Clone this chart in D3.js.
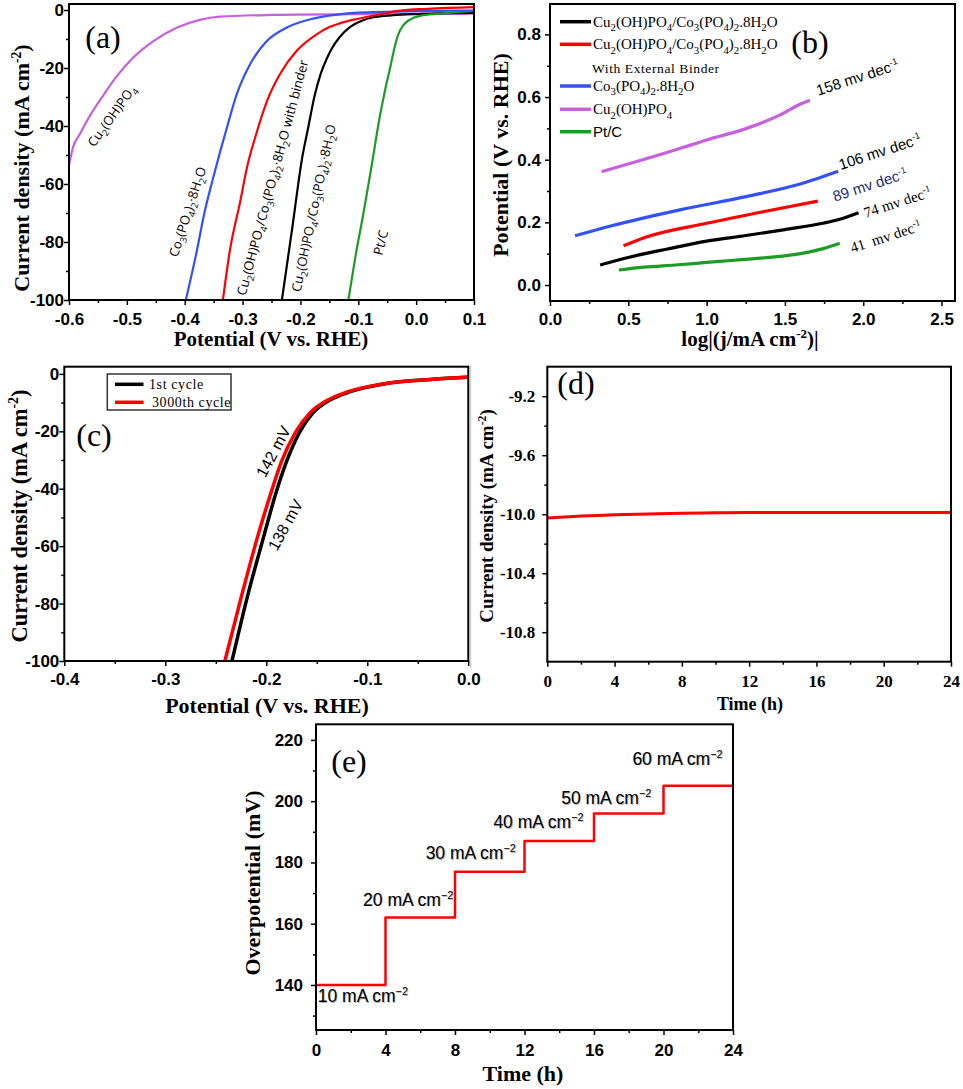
<!DOCTYPE html>
<html>
<head>
<meta charset="utf-8">
<script src="https://cdn.jsdelivr.net/npm/d3@7"></script>
<style>
body { margin: 0; background: #fff; }
svg { display: block; }
</style>
</head>
<body>
<div id="container"></div>
<script>
const SERIF = "'Liberation Serif', 'Times New Roman', serif";
const SANS = "'Liberation Sans', Arial, sans-serif";
const OPEN = "'Open Sans', 'Liberation Sans', sans-serif";

// (a) polarization curves: [potential (V vs. RHE), current density (mA cm-2)]
const lsvComposite = [[-0.232,-100],[-0.214,-75],[-0.197,-51],[-0.186,-40],[-0.176,-30],[-0.165,-22],[-0.155,-17],[-0.145,-13],[-0.132,-9.3],[-0.115,-6],[-0.095,-3.8],[-0.074,-2.5],[-0.04,-1.8],[0.0,-1.4],[0.1,-1.0]];
const lsvBinder = [[-0.334,-100],[-0.322,-83],[-0.304,-66],[-0.292,-54],[-0.276,-42.5],[-0.258,-31.5],[-0.235,-22],[-0.206,-14],[-0.172,-8.4],[-0.149,-5.8],[-0.132,-4.6],[-0.1,-3.0],[-0.06,-1.4],[-0.03,-0.3],[0.02,0.4],[0.1,1.0]];
const lsvCo3 = [[-0.398,-100],[-0.379,-83],[-0.366,-70],[-0.351,-58],[-0.339,-49],[-0.327,-40.5],[-0.31,-29],[-0.287,-18.7],[-0.258,-10.7],[-0.224,-6.1],[-0.183,-3.2],[-0.132,-1.5],[-0.1,-0.9],[0,-0.4],[0.1,-0.2]];
const lsvCu2 = [[-0.6,-53.5],[-0.593,-47.3],[-0.581,-42.7],[-0.564,-36.5],[-0.541,-29.5],[-0.518,-23],[-0.489,-16.4],[-0.454,-10.7],[-0.414,-6.1],[-0.374,-3.4],[-0.339,-2.3],[-0.25,-1.7],[-0.1,-1.4],[0.1,-1.3]];
const lsvPtC = [[-0.117,-100],[-0.104,-84],[-0.091,-70],[-0.078,-55],[-0.063,-37],[-0.052,-26],[-0.045,-20],[-0.038,-13.5],[-0.031,-8.5],[-0.023,-5.5],[-0.016,-4],[-0.005,-2.7],[0.007,-2.0],[0.041,-1.3],[0.1,-0.3]];

// (b) Tafel plots: [log|j|, potential (V vs. RHE)]
const tafelComposite = [[0.32,0.064],[0.5,0.088],[0.75,0.115],[1.0,0.14],[1.25,0.158],[1.5,0.177],[1.75,0.198],[1.85,0.21],[1.97,0.231]];
const tafelBinder = [[0.47,0.125],[0.62,0.154],[1.0,0.197],[1.36,0.234],[1.71,0.268]];
const tafelCo3 = [[0.16,0.157],[0.4,0.19],[0.83,0.24],[1.26,0.283],[1.58,0.32],[1.84,0.363]];
const tafelCu2 = [[0.33,0.362],[0.51,0.388],[0.83,0.436],[1.0,0.463],[1.256,0.5],[1.47,0.543],[1.6,0.578],[1.66,0.59]];
const tafelPtC = [[0.44,0.048],[0.6,0.057],[0.8,0.064],[1.0,0.072],[1.2,0.08],[1.4,0.088],[1.6,0.1],[1.75,0.117],[1.85,0.133]];
const tafelSlopes = [158, 106, 89, 74, 41];

// (c) before / after 3000 cycles
const cycleFirst = [[-0.234,-100],[-0.219,-78],[-0.203,-57.2],[-0.19,-41],[-0.18,-30.6],[-0.167,-20.3],[-0.154,-13.7],[-0.137,-9.1],[-0.117,-6.2],[-0.084,-3.5],[-0.035,-1.9],[0,-1.2]];
const cycle3000 = [[-0.241,-100],[-0.225,-78],[-0.209,-57.2],[-0.195,-41],[-0.185,-30.6],[-0.171,-20.3],[-0.157,-13.7],[-0.139,-9.1],[-0.119,-6.2],[-0.085,-3.5],[-0.035,-1.9],[0,-1.1]];

// (d) chronoamperometry
const stabTime = [0, 1, 2, 3, 4, 6, 8, 10, 12, 16, 20, 24];
const stabJ = [-10.025, -10.019, -10.013, -10.008, -10.004, -9.998, -9.994, -9.991, -9.989, -9.989, -9.989, -9.989];

// (e) multi-step chronopotentiometry
const stepTime = [0, 4, 8, 12, 16, 20, 24];
const stepEta = [140, 162, 177, 187, 196, 205];
const stepJ = [10, 20, 30, 40, 50, 60];

const colors = {black: "#000", red: "#ff0000", blue: "#3352f5", magenta: "#c75fde", green: "#1c9c22"};

const svg = d3.select("#container").append("svg")
  .attr("width", 963).attr("height", 1089)
  .attr("viewBox", [0, 0, 963, 1089]);
svg.append("rect").attr("width", 963).attr("height", 1089).attr("fill", "#fff");

// text with _{sub} and ^{sup} pieces
function rich(text, str, size, base) {
  const parts = str.split(/(_\{[^}]*\}|\^\{[^}]*\})/).filter(s => s.length);
  let cur = 0;
  parts.forEach((p, i) => {
    let off = 0, fs = size, s = p;
    if (p.startsWith("_{")) { off = size * 0.28; fs = size * 0.72; s = p.slice(2, -1); }
    else if (p.startsWith("^{")) { off = -size * 0.38; fs = size * 0.62; s = p.slice(2, -1); }
    text.append("tspan").attr("dy", off - cur + (i == 0 ? (base || 0) : 0)).attr("font-size", fs).text(s);
    cur = off;
  });
  return text;
}

function label(g, x, y, str, o) {
  const t = g.append("text")
    .attr("transform", `translate(${x},${y})` + (o.rotate ? ` rotate(${o.rotate})` : ""))
    .attr("text-anchor", o.anchor || "middle")
    .attr("font-family", o.font || SERIF)
    .attr("font-weight", o.bold ? "bold" : "normal")
    .attr("font-size", o.size)
    .attr("fill", o.color || "#000");
  if (o.spacing) t.attr("letter-spacing", o.spacing);
  rich(t, str, o.size, o.base || 0);
  return t;
}

let clipId = 0;
function panel(x, y, o) {
  const g = svg.append("g");
  const [x0, x1] = x.range(), [y0, y1] = y.range();
  g.append("g").attr("transform", `translate(0,${y0})`)
    .call(d3.axisBottom(x).tickValues(o.xMinor).tickSize(3).tickFormat(""));
  g.append("g").attr("transform", `translate(${x0},0)`)
    .call(d3.axisLeft(y).tickValues(o.yMinor).tickSize(3).tickFormat(""));
  g.append("g").attr("transform", `translate(0,${y0})`)
    .call(d3.axisBottom(x).tickValues(o.xTicks).tickSize(5).tickPadding(o.xPad).tickFormat(o.xFmt));
  g.append("g").attr("transform", `translate(${x0},0)`)
    .call(d3.axisLeft(y).tickValues(o.yTicks).tickSize(5).tickPadding(o.yPad).tickFormat(o.yFmt));
  g.selectAll(".domain").remove();
  g.selectAll(".tick line").attr("stroke-width", 1.5);
  g.selectAll(".tick text")
    .attr("font-family", o.font).attr("font-weight", "bold")
    .attr("font-size", 17).attr("fill", "#000");
  clipId++;
  svg.append("clipPath").attr("id", "clip" + clipId)
    .append("rect").attr("x", x0).attr("y", y1).attr("width", x1 - x0).attr("height", y0 - y1);
  const plot = g.append("g").attr("clip-path", `url(#clip${clipId})`);
  g.append("rect").attr("x", x0).attr("y", y1).attr("width", x1 - x0).attr("height", y0 - y1)
    .attr("fill", "none").attr("stroke", "#000").attr("stroke-width", 2);
  return {g, plot};
}

function drawLine(g, x, y, data, color, w, curve) {
  g.append("path").datum(data)
    .attr("fill", "none").attr("stroke", color).attr("stroke-width", w)
    .attr("stroke-linejoin", "round")
    .attr("d", d3.line().x(d => x(d[0])).y(d => y(d[1])).curve(curve || d3.curveMonotoneX));
}

const f1 = d => d.toFixed(1);
const f0 = d => String(d);

// ---------- (a)
const xA = d3.scaleLinear().domain([-0.6, 0.1]).range([69, 474]);
const yA = d3.scaleLinear().domain([-100, 2.07]).range([300, 4]);
const pA = panel(xA, yA, {
  xTicks: d3.range(-6, 2).map(d => d / 10), xMinor: d3.range(-55, 10, 10).map(d => d / 100),
  yTicks: [0, -20, -40, -60, -80, -100], yMinor: [-10, -30, -50, -70, -90],
  xFmt: f1, yFmt: f0, xPad: 8, yPad: 0, font: SANS
});
drawLine(pA.plot, xA, yA, lsvCu2, colors.magenta, 2.2);
drawLine(pA.plot, xA, yA, lsvComposite, colors.black, 2.2);
drawLine(pA.plot, xA, yA, lsvPtC, colors.green, 2.2);
drawLine(pA.plot, xA, yA, lsvCo3, colors.blue, 2.2);
drawLine(pA.plot, xA, yA, lsvBinder, colors.red, 2.2);
const aNotes = [
  {t: "Cu_{2}(OH)PO_{4}", v: -0.526, j: -36.5, r: -54},
  {t: "Co_{3}(PO_{4})_{2}·8H_{2}O", v: -0.395, j: -69.6, r: -72},
  {t: "Cu_{2}(OH)PO_{4}/Co_{3}(PO_{4})_{2}·8H_{2}O with binder", v: -0.248, j: -57.8, r: -75},
  {t: "Cu_{2}(OH)PO_{4}/Co_{3}(PO_{4})_{2}·8H_{2}O", v: -0.177, j: -68.3, r: -78},
  {t: "Pt/C", v: -0.061, j: -80.2, r: -75}
];
aNotes.forEach(n => label(pA.g, xA(n.v), yA(n.j), n.t, {size: 13, font: OPEN, rotate: n.r, base: 4.5}));
label(svg, 103, 48, "(a)", {size: 32});
label(svg, 22, 168, "Current density (mA cm^{-2})", {size: 22, bold: true, rotate: -90, base: 7});
label(svg, 271, 346, "Potential (V vs. RHE)", {size: 21, bold: true});

// ---------- (b)
const xB = d3.scaleLinear().domain([0, 2.586]).range([550, 955]);
const yB = d3.scaleLinear().domain([-0.051, 0.897]).range([301, 4]);
const pB = panel(xB, yB, {
  xTicks: [0, 0.5, 1, 1.5, 2, 2.5], xMinor: [0.25, 0.75, 1.25, 1.75, 2.25],
  yTicks: [0, 0.2, 0.4, 0.6, 0.8], yMinor: [0.1, 0.3, 0.5, 0.7],
  xFmt: f1, yFmt: f1, xPad: 7, yPad: 4, font: SANS
});
const tafelSets = [tafelCu2, tafelCo3, tafelBinder, tafelComposite, tafelPtC];
const tafelColors = [colors.magenta, colors.blue, colors.red, colors.black, colors.green];
tafelSets.forEach((s, i) => drawLine(pB.plot, xB, yB, s, tafelColors[i], 3.2));
// slope labels: position in data units, font
const slopeNotes = [
  {x: 1.964, y: 0.662, font: SANS, color: "#000"},
  {x: 2.107, y: 0.425, font: SANS, color: "#000"},
  {x: 2.043, y: 0.319, font: SANS, color: "#1c2a7a"},
  {x: 2.219, y: 0.264, font: SERIF, color: "#000"},
  {x: 2.144, y: 0.154, font: SERIF, color: "#000"}
];
tafelSlopes.forEach((s, i) => {
  const n = slopeNotes[i];
  const gap = s == 41 ? "\u00a0\u00a0" : " ";
  label(pB.g, xB(n.x), yB(n.y), s + gap + "mv dec^{-1}", {size: 15, font: n.font, color: n.color, rotate: -18, base: 5});
});
const legB = [
  {c: colors.black, t: "Cu_{2}(OH)PO_{4}/Co_{3}(PO_{4})_{2}.8H_{2}O", y: 21.7},
  {c: colors.red, t: "Cu_{2}(OH)PO_{4}/Co_{3}(PO_{4})_{2}.8H_{2}O", y: 44.3},
  {c: null, t: "With External Binder", y: 68.3},
  {c: colors.blue, t: "Co_{3}(PO_{4})_{2}.8H_{2}O", y: 86},
  {c: colors.magenta, t: "Cu_{2}(OH)PO_{4}", y: 109.3},
  {c: colors.green, t: "Pt/C", y: 131.7, font: SANS}
];
legB.forEach(l => {
  if (l.c) pB.g.append("line").attr("x1", 560).attr("x2", 591).attr("y1", l.y).attr("y2", l.y)
    .attr("stroke", l.c).attr("stroke-width", 3.5);
  label(pB.g, l.c ? 593 : 592, l.y, l.t, {size: l.c ? 15 : 13.5, anchor: "start", font: l.font || SERIF, base: 5, spacing: l.c ? 0 : 0.6});
});
label(svg, 810, 53, "(b)", {size: 32});
label(svg, 501, 155, "Potential (V vs. RHE)", {size: 22, bold: true, rotate: -90, base: 7});
label(svg, 750, 346, "log|(j/mA cm^{-2})|", {size: 21, bold: true});

// ---------- (c)
const xC = d3.scaleLinear().domain([-0.4, 0]).range([64.3, 468.3]);
const yC = d3.scaleLinear().domain([-100, 2.5]).range([661, 366.7]);
const pC = panel(xC, yC, {
  xTicks: [-0.4, -0.3, -0.2, -0.1, 0], xMinor: [-0.35, -0.25, -0.15, -0.05],
  yTicks: [0, -20, -40, -60, -80, -100], yMinor: [-10, -30, -50, -70, -90],
  xFmt: f1, yFmt: f0, xPad: 7, yPad: 0, font: SANS
});
drawLine(pC.plot, xC, yC, cycleFirst, colors.black, 3.5);
drawLine(pC.plot, xC, yC, cycle3000, colors.red, 3.5);
pC.g.append("rect").attr("x", 107.3).attr("y", 374).attr("width", 123.7).attr("height", 36)
  .attr("fill", "#fff").attr("stroke", "#333").attr("stroke-width", 1.5);
[[colors.black, "1st cycle", 384.3, 149], [colors.red, "3000th cycle", 402.3, 152]].forEach(l => {
  pC.g.append("line").attr("x1", 115).attr("x2", 143.5).attr("y1", l[2]).attr("y2", l[2])
    .attr("stroke", l[0]).attr("stroke-width", 3.5);
  label(pC.g, l[3], l[2], l[1], {size: 14, anchor: "start", base: 5, spacing: 0.6});
});
label(pC.g, xC(-0.193), yC(-27.1), "142 mV", {size: 16, font: SANS, rotate: -62, base: 5.5});
label(pC.g, xC(-0.181), yC(-52.6), "138 mV", {size: 16, font: SANS, rotate: -61, base: 5.5});
label(svg, 94, 446, "(c)", {size: 32});
label(svg, 20, 516, "Current density (mA cm^{-2})", {size: 22.5, bold: true, rotate: -90, base: 7});
label(svg, 267, 713, "Potential (V vs. RHE)", {size: 22, bold: true});

// separator between (c) and (d)
svg.append("line").attr("x1", 470.5).attr("x2", 470.5).attr("y1", 365).attr("y2", 668)
  .attr("stroke", "#cfcfcf").attr("stroke-width", 1.5);

// ---------- (d)
const xD = d3.scaleLinear().domain([0, 24]).range([547.3, 951]);
const yD = d3.scaleLinear().domain([-11, -9]).range([661.7, 366.7]);
const pD = panel(xD, yD, {
  xTicks: d3.range(0, 25, 4), xMinor: d3.range(2, 24, 4),
  yTicks: [-9.2, -9.6, -10.0, -10.4, -10.8], yMinor: [-9.4, -9.8, -10.2, -10.6],
  xFmt: f0, yFmt: f1, xPad: 8, yPad: 7, font: SERIF
});
drawLine(pD.plot, xD, yD, stabTime.map((t, i) => [t, stabJ[i]]), colors.red, 3);
label(svg, 576, 394, "(d)", {size: 32});
label(svg, 487, 516, "Current density (mA cm^{-2})", {size: 19, bold: true, rotate: -90, base: 6});
label(svg, 750, 710, "Time (h)", {size: 18, bold: true});

// ---------- (e)
const xE = d3.scaleLinear().domain([0, 24]).range([316, 733]);
const yE = d3.scaleLinear().domain([125.3, 225.1]).range([1030, 724.3]);
const pE = panel(xE, yE, {
  xTicks: d3.range(0, 25, 4), xMinor: d3.range(2, 24, 4),
  yTicks: [140, 160, 180, 200, 220], yMinor: [130, 150, 170, 190, 210],
  xFmt: f0, yFmt: f0, xPad: 9, yPad: 8, font: SANS
});
const stepPts = stepTime.map((t, i) => [t, stepEta[Math.min(i, stepEta.length - 1)]]);
drawLine(pE.plot, xE, yE, stepPts, colors.red, 2.5, d3.curveStepAfter);
// label anchor per step: [time, overpotential, anchor]
const stepNotes = [[0.1, 136.5, "start"], [7.9, 168, "end"], [11.5, 183.2, "end"], [15.4, 193.3, "end"], [19.3, 201.2, "end"], [23.4, 214, "end"]];
stepJ.forEach((j, i) => {
  const [t, e, a] = stepNotes[i];
  label(pE.g, xE(t) + 0.8, yE(e) + 0.8, j + " mA cm^{\u22122}", {size: 17.5, font: SANS, anchor: a, base: 6.3, color: "#b4b4b4"});
  label(pE.g, xE(t), yE(e), j + " mA cm^{\u22122}", {size: 17.5, font: SANS, anchor: a, base: 6.3});
});
label(svg, 349, 772, "(e)", {size: 32});
label(svg, 253, 883, "Overpotential (mV)", {size: 22, bold: true, rotate: -90, base: 7});
label(svg, 523, 1081, "Time (h)", {size: 22, bold: true});
</script>
</body>
</html>
